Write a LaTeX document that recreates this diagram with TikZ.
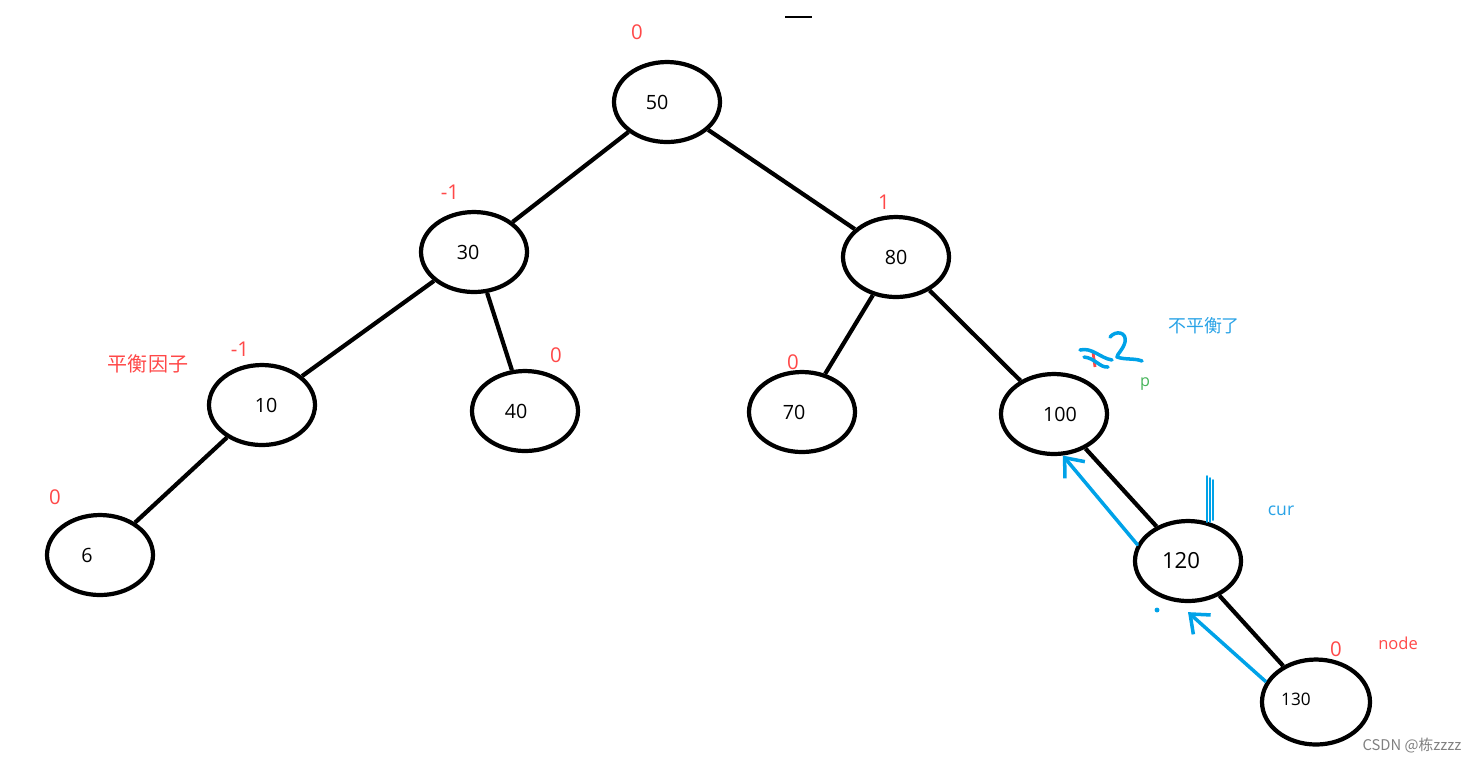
\documentclass[tikz,border=0pt]{standalone}
\usepackage{fontspec}
\setmainfont{Open Sans}
\newfontfamily\cjk{Noto Sans CJK SC}
\usetikzlibrary{shapes.geometric}
\usetikzlibrary{arrows.meta}
\definecolor{bfred}{RGB}{255,72,72}
\definecolor{penblue}{RGB}{0,162,232}
\definecolor{tagblue}{RGB}{40,162,230}
\definecolor{taggreen}{RGB}{70,180,90}
\tikzset{
	treenode/.style={draw,ellipse,line width=1.2pt,minimum width=1.06cm,minimum height=0.80cm,inner sep=0pt,font=\fontsize{5.6}{6}\selectfont},
	bf/.style={text=bfred,font=\fontsize{5.8}{6}\selectfont},
	branch/.style={line width=1.2pt},
	pen/.style={penblue,line width=1pt,line cap=round,line join=round},
}

\begin{document}
\begin{tikzpicture}
	\useasboundingbox (0,0) rectangle (14.69,-7.61);
	%TREE
	\node[treenode] (n50)  at (6.67,-1.02) {50\hspace{0.2cm}\mbox{}};
	\node[treenode] (n30)  at (4.74,-2.52) {30\hspace{0.12cm}\mbox{}};
	\node[treenode] (n80)  at (8.96,-2.57) {80};
	\node[treenode] (n10)  at (2.62,-4.05) {\hspace{0.08cm}10};
	\node[treenode] (n40)  at (5.25,-4.11) {\raisebox{-0.06cm}{40}\hspace{0.18cm}\mbox{}};
	\node[treenode] (n70)  at (8.02,-4.12) {70\hspace{0.16cm}\mbox{}};
	\node[treenode] (n100) at (10.54,-4.14) {\hspace{0.12cm}100};
	\node[treenode] (n6)   at (1.00,-5.55) {\raisebox{-0.05cm}{6}\hspace{0.26cm}\mbox{}};
	\node[treenode,font=\fontsize{6.3}{7}\selectfont] (n120) at (11.88,-5.61) {120\hspace{0.14cm}\mbox{}};
	\node[treenode,minimum width=1.08cm,minimum height=0.85cm,font=\fontsize{4.9}{6}\selectfont] (n130) at (13.16,-7.02) {\raisebox{0.06cm}{130}\hspace{0.4cm}\mbox{}};
	%
	\draw[branch] (n50)--(n30);
	\draw[branch] (n50)--(n80);
	\draw[branch] (n30)--(n10);
	\draw[branch] (n30)--(n40);
	\draw[branch] (n80)--(n70);
	\draw[branch] (n80)--(n100);
	\draw[branch] (n10)--(n6);
	\draw[branch] (n100)--(n120);
	\draw[branch] (n120)--(n130);
	
	%BALANCE FACTORS
	\node[bf] (bf50)  at (6.37,-0.32) {0};
	\node[bf] (bf30)  at (4.50,-1.92) {-1};
	\node[bf] (bf80)  at (8.84,-2.02) {1};
	\node[bf] (bf10)  at (2.40,-3.49) {-1};
	\node[bf] (bf40)  at (5.56,-3.55) {0};
	\node[bf] (bf70)  at (7.93,-3.62) {0};
	\node[bf] (bf6)   at (0.55,-4.97) {0};
	\node[bf] (bf130) at (13.36,-6.49) {0};
	\node[text=bfred,font=\cjk\fontsize{5.7}{6}\selectfont] (bfname) at (1.48,-3.64) {平衡因子};
	\node[text=bfred,font=\fontsize{4.7}{5}\selectfont] (tagnode) at (13.98,-6.43) {node};
	
	%POINTER TAGS
	\node[text=tagblue,font=\cjk\fontsize{5.1}{6}\selectfont] (tagbad) at (12.04,-3.26) {不平衡了};
	\node[text=taggreen,font=\fontsize{4.6}{5}\selectfont] (tagp) at (11.45,-3.84) {p};
	\node[text=tagblue,font=\fontsize{5.0}{6}\selectfont] (tagcur) at (12.81,-5.11) {cur};
	
	%PEN MARKS
	\draw[bfred,line width=0.8pt] (10.93,-3.52)--(10.95,-3.67);
	\draw[pen] (10.80,-3.50) .. controls (10.92,-3.47) and (11.00,-3.58) .. (11.12,-3.60);
	\draw[pen] (10.84,-3.57) .. controls (10.95,-3.58) and (11.00,-3.68) .. (11.08,-3.67);
	\draw[pen] (11.10,-3.37) .. controls (11.16,-3.30) and (11.27,-3.32) .. (11.25,-3.42) .. controls (11.23,-3.50) and (11.17,-3.54) .. (11.17,-3.57) .. controls (11.25,-3.60) and (11.35,-3.58) .. (11.42,-3.61);
	\draw[pen,line width=0.55pt] (12.07,-4.76)--(12.07,-5.22);
	\draw[pen,line width=0.55pt] (12.10,-4.78)--(12.10,-5.22);
	\draw[pen,line width=0.55pt] (12.13,-4.80)--(12.13,-5.20);
	\fill[penblue] (11.57,-6.10) circle (0.7pt);
	\draw[pen,-{Straight Barb[length=1.6mm,width=2.6mm]}] (n120.162)--(n100.-78);
	\draw[pen,line cap=butt,-{Straight Barb[length=1.6mm,width=2.6mm]}] (n130.158)--([yshift=-0.9mm]n120.south);
	\draw[line width=0.6pt] (7.85,-0.17)--(8.12,-0.17);
	
	%WATERMARK
	\node[text=gray,font=\cjk\fontsize{4.2}{5}\selectfont] (mark) at (14.12,-7.46) {CSDN @栋zzzz};
\end{tikzpicture}
\end{document}
